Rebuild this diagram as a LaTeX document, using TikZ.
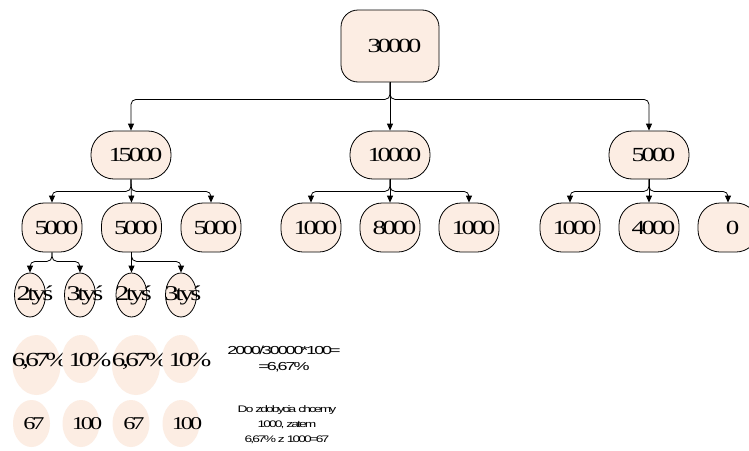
\documentclass[tikz,border=0pt]{standalone}
\usepackage{fontspec}
\setmainfont{Liberation Serif}[FakeStretch=1.35, LetterSpace=-17]
\newfontfamily\calcsans{Liberation Sans}[FakeStretch=1.55, LetterSpace=-18]
\newfontfamily\notesans{Liberation Sans}[FakeStretch=1.45, LetterSpace=-20]
\usetikzlibrary{arrows.meta,shapes.geometric}
\definecolor{peach}{RGB}{252,237,227}

\begin{document}
\begin{tikzpicture}[x=1pt,y=-1pt,
  conn/.style={line width=0.8pt, rounded corners=5pt, -{Triangle[length=7pt,width=6pt]}},
  pbox/.style={draw, fill=peach, line width=0.8pt, inner sep=0pt,
    font=\fontsize{20}{24}\selectfont, execute at begin node={\hspace*{9pt}}},
  topbox/.style={pbox, minimum width=98pt, minimum height=72pt, rounded corners=17pt},
  midbox/.style={pbox, minimum width=80pt, minimum height=48pt, rounded corners=23pt},
  lowbox/.style={pbox, minimum width=60pt, minimum height=49pt, rounded corners=22pt},
  leaf/.style={draw, ellipse, fill=peach, line width=0.8pt, inner sep=0pt,
    minimum width=31pt, minimum height=44pt},
  share/.style={ellipse, fill=peach, inner sep=0pt},
  bigtxt/.style={inner sep=0pt, font=\fontsize{20}{24}\selectfont},
  leaftxt/.style={inner sep=0pt, font=\fontsize{21}{24}\selectfont},
  midtxt/.style={inner sep=0pt, font=\fontsize{18}{22}\selectfont},
  calc/.style={inner sep=0pt, align=center, font=\calcsans\fontsize{11.6}{16}\selectfont},
  note/.style={inner sep=0pt, align=center, font=\notesans\fontsize{9.5}{15}\selectfont}
]
\clip (0,0) rectangle (749,450);
\fill[white] (0,0) rectangle (749,450);

% root and first split
\node[topbox] (r) at (390,46) {30000};
\node[midbox] (a) at (131,155) {15000};
\node[midbox] (b) at (390,155) {10000};
\node[midbox] (c) at (649,155) {5000};

% second split
\node[lowbox] (a1) at (52,227.5) {5000};
\node[lowbox] (a2) at (131.5,227.5) {5000};
\node[lowbox] (a3) at (211,227.5) {5000};
\node[lowbox] (b1) at (311,227.5) {1000};
\node[lowbox] (b2) at (390,227.5) {8000};
\node[lowbox] (b3) at (469,227.5) {1000};
\node[lowbox] (c1) at (570,227.5) {1000};
\node[lowbox] (c2) at (649,227.5) {4000};
\node[lowbox] (c3) at (728,227.5) {0};

% leaves
\node[leaf] (l1) at (30,295) {};
\node[leaf] (l2) at (80,295) {};
\node[leaf] (l3) at (131.5,295) {};
\node[leaf] (l4) at (181,295) {};
\node[leaftxt] (l1t) at ([xshift=5pt]l1.center) {2tyś};
\node[leaftxt] (l2t) at ([xshift=5pt]l2.center) {3tyś};
\node[leaftxt] (l3t) at ([xshift=2pt]l3.center) {2tyś};
\node[leaftxt] (l4t) at ([xshift=2pt]l4.center) {3tyś};

% connectors
\draw[conn] (r.south) -- ++(0,17) -| (a.north);
\draw[conn] (r.south) -- (b.north);
\draw[conn] (r.south) -- ++(0,17) -| (c.north);

\draw[conn] (a.south) -- ++(0,12) -| (a1.north);
\draw[conn] (a.south) -- (a2.north);
\draw[conn] (a.south) -- ++(0,12) -| (a3.north);
\draw[conn] (b.south) -- ++(0,12) -| (b1.north);
\draw[conn] (b.south) -- (b2.north);
\draw[conn] (b.south) -- ++(0,12) -| (b3.north);
\draw[conn] (c.south) -- ++(0,12) -| (c1.north);
\draw[conn] (c.south) -- (c2.north);
\draw[conn] (c.south) -- ++(0,12) -| (c3.north);

\draw[conn] (a1.south) -- ++(0,9) -| (l1.north);
\draw[conn] (a1.south) -- ++(0,9) -| (l2.north);
\draw[conn] (a2.south) -- (l3.north);
\draw[conn] (a2.south) -- ++(0,9) -| (l4.north);

% percentage shares
\node[share, minimum width=48pt, minimum height=60pt] (p1) at (36.5,365) {};
\node[bigtxt] (p1t) at (40,361) {6,67\%};
\node[share, minimum width=38pt, minimum height=48pt] (p2) at (81,359) {};
\node[bigtxt] (p2t) at (90,360) {10\%};
\node[share, minimum width=48pt, minimum height=60pt] (p3) at (136,365) {};
\node[bigtxt] (p3t) at (140,361) {6,67\%};
\node[share, minimum width=38pt, minimum height=48pt] (p4) at (181,359) {};
\node[bigtxt] (p4t) at (190,360) {10\%};

% amounts out of 1000
\node[share, minimum width=37pt, minimum height=47pt] (q1) at (31.5,423.5) {};
\node[share, minimum width=37pt, minimum height=47pt] (q2) at (81,423.5) {};
\node[share, minimum width=37pt, minimum height=47pt] (q3) at (131,423.5) {};
\node[share, minimum width=37pt, minimum height=47pt] (q4) at (181,423.5) {};
\node[midtxt] (q1t) at (34,424) {67};
\node[midtxt] (q2t) at (87,424) {100};
\node[midtxt] (q3t) at (134,424) {67};
\node[midtxt] (q4t) at (187,424) {100};

% worked calculations
\node[calc] (f1) at (284,359) {2000/30000*100=\\=6,67\%};
\node[note] (f2) at (287,425) {Do zdobycia chcemy\\1000, zatem\\6,67\% z 1000=67};
\end{tikzpicture}
\end{document}
